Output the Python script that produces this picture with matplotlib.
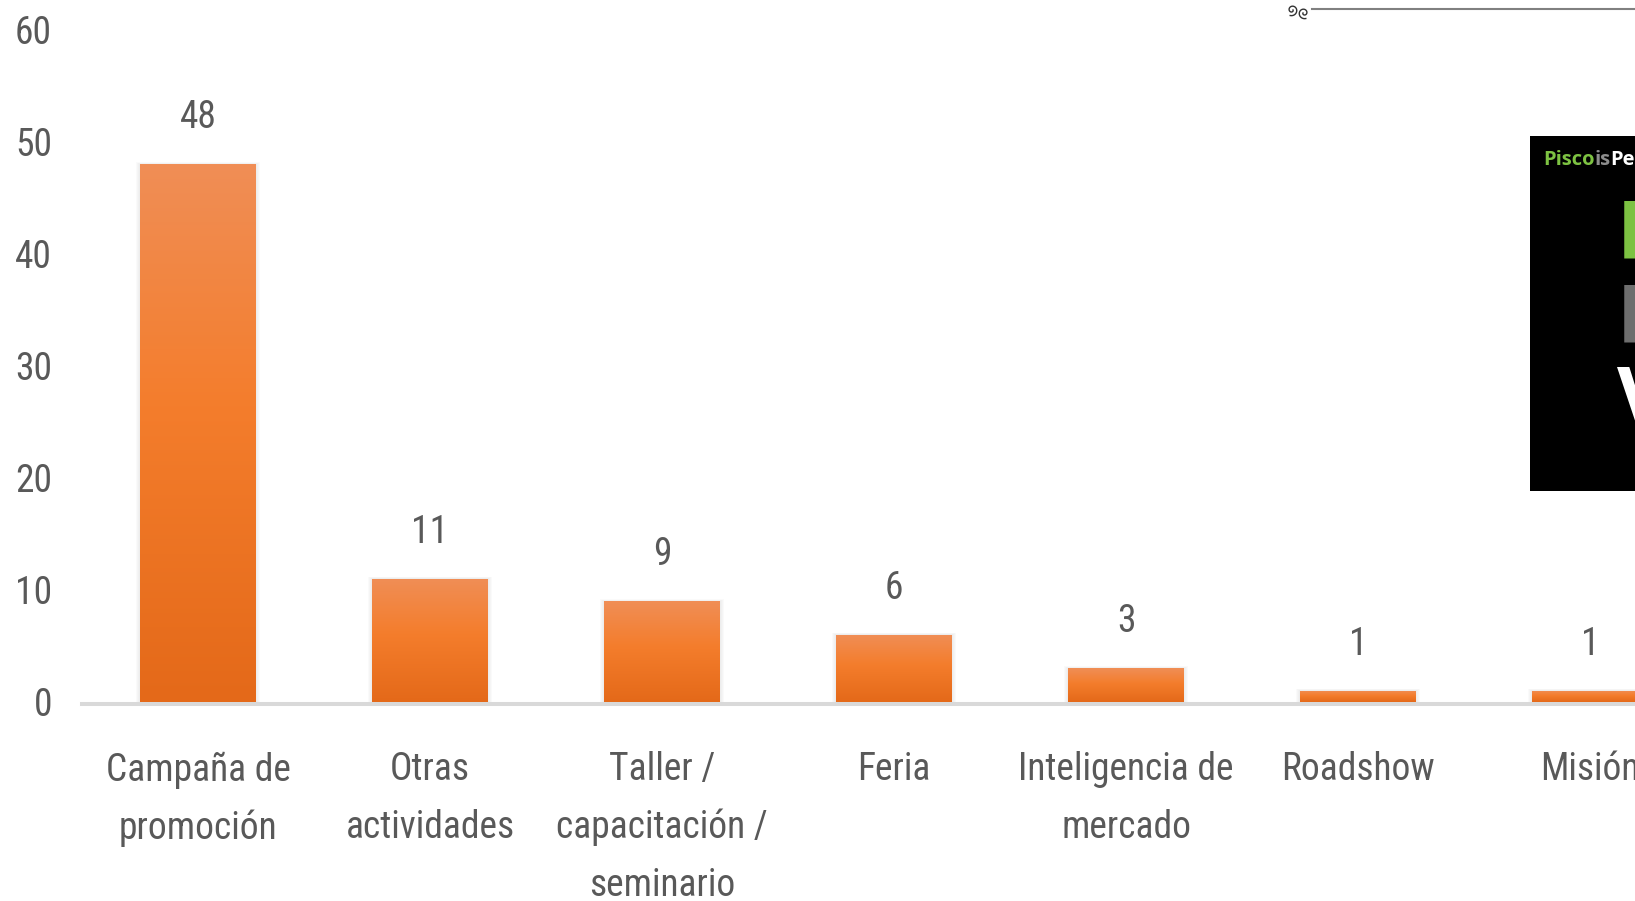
import numpy as np
import matplotlib
matplotlib.use('Agg')
import matplotlib.pyplot as plt
from matplotlib import font_manager as fm
from matplotlib.patches import Rectangle
from matplotlib.lines import Line2D
from matplotlib.colors import LinearSegmentedColormap

# ---------------- data ----------------
categories = ["Campaña de\npromoción", "Otras\nactividades",
              "Taller /\ncapacitación /\nseminario", "Feria",
              "Inteligencia de\nmercado", "Roadshow", "Misión"]
values = [48, 11, 9, 6, 3, 1, 1]
yticks = [0, 10, 20, 30, 40, 50, 60]

# ---------------- font choice (narrow font if available) ----------------
entries = fm.fontManager.ttflist
names = {f.name for f in entries}
STRETCH = 'normal'
if 'Liberation Sans Narrow' in names:
    MAIN, FS = 'Liberation Sans Narrow', 27
elif 'Roboto Condensed' in names:
    MAIN, FS = 'Roboto Condensed', 27
elif any(f.name == 'DejaVu Sans' and 'condensed' in str(f.stretch) for f in entries):
    MAIN, FS, STRETCH = 'DejaVu Sans', 24, 'condensed'
else:
    MAIN, FS = 'Liberation Sans', 24

FONT = [MAIN, 'DejaVu Sans']
plt.rcParams['font.family'] = FONT
plt.rcParams['font.stretch'] = STRETCH
TXT = '#595959'

W, H = 1635, 901
fig = plt.figure(figsize=(W / 100, H / 100), dpi=100)
fig.patch.set_facecolor('white')

ax_left, ax_bottom, ax_top = 82, 199, 30
ax = fig.add_axes([ax_left / W, ax_bottom / H, 1 - ax_left / W, (H - ax_bottom - ax_top) / H])
ax.set_facecolor('none')

x = np.arange(len(categories))
bar_w = 0.5

# soft shadow behind bars
px_x = 1 / 232.0
px_y = 60 / 672.0
for k in range(1, 5):
    ax.bar(x, [v + k * px_y * 0.5 for v in values], width=bar_w + 2 * k * px_x,
           color='#8f8f8f', alpha=0.04, zorder=1, linewidth=0)

bars = ax.bar(x, values, width=bar_w, color='#F27C2C', zorder=2, linewidth=0)

cmap = LinearSegmentedColormap.from_list(
    'og', [(0.0, (228/255, 105/255, 25/255)),
           (0.55, (244/255, 125/255, 44/255)),
           (1.0, (240/255, 142/255, 86/255))])
grad = np.linspace(0, 1, 256).reshape(-1, 1)
for r in bars:
    x0, w, h = r.get_x(), r.get_width(), r.get_height()
    im = ax.imshow(grad, cmap=cmap, extent=[x0, x0 + w, 0, h], aspect='auto',
                   origin='lower', zorder=3, interpolation='bilinear')
    im.set_clip_path(r)

# value labels
for xi, v in zip(x, values):
    ax.annotate(f"{v}", (xi, v), xytext=(0, 25.9), textcoords='offset points',
                ha='center', va='baseline', fontsize=FS, color=TXT)

ax.set_ylim(0, 60)
ax.set_xlim(-0.5, -0.5 + (W - ax_left) / 232.0)
ax.set_yticks(yticks)
ax.set_yticklabels([str(t) for t in yticks])
ax.set_xticks(x)
ax.tick_params(axis='both', length=0, labelsize=FS, labelcolor=TXT)
ax.tick_params(axis='y', pad=21.6)
ax.tick_params(axis='x', labelbottom=False)

# category labels (multi-line, centred under each bar)
for xi, lab in zip(x, categories):
    ax.annotate(lab, (xi, 0), xycoords=('data', 'axes fraction'),
                xytext=(0, -35.5), textcoords='offset points',
                ha='center', va='top', multialignment='center',
                linespacing=1.7, fontsize=FS, color=TXT, annotation_clip=False)

for s in ['top', 'right', 'left']:
    ax.spines[s].set_visible(False)
ax.spines['bottom'].set_color('#D9D9D9')
ax.spines['bottom'].set_linewidth(2.9)
ax.spines['bottom'].set_position(('outward', 1.5))
ax.spines['bottom'].set_zorder(0.5)

# ---------------- decorations (top-right) ----------------
def fx(px):
    return px / W

def fy(py):
    return (H - py) / H

fig.add_artist(Line2D([fx(1312), fx(W)], [fy(9), fy(9)], color='#808080', lw=1.5))
t = np.linspace(0, 2.6 * np.pi, 80)
for cx, cy, sgn in [(1292, 10, 1), (1304, 13, -1)]:
    rr = 1.0 + 1.6 * t / (2.6 * np.pi) * 3
    xs = cx + sgn * rr * np.cos(t)
    ys = cy + rr * np.sin(t)
    fig.add_artist(Line2D([fx(v) for v in xs], [fy(v) for v in ys], color='#333333', lw=1.0))

fig.add_artist(Rectangle((fx(1530), fy(491)), fx(W) - fx(1530) + 0.01, fy(136) - fy(491),
                         transform=fig.transFigure, facecolor='black', edgecolor='none'))
LOGO = ['Open Sans', 'DejaVu Sans']
t1 = fig.text(fx(1543), fy(165), 'Pisco', color='#7DC242', fontsize=14.5,
              fontweight='bold', family=LOGO, va='baseline', stretch='normal')
t2 = fig.text(0, 0, 'is', color='#8C8C8C', fontsize=14.5, fontweight='bold',
              family=LOGO, va='baseline', stretch='normal')
t3 = fig.text(0, 0, 'Pe', color='white', fontsize=14.5, fontweight='bold',
              family=LOGO, va='baseline', stretch='normal')
fig.canvas.draw()
r = fig.canvas.get_renderer()
bb = t1.get_window_extent(r)
t2.set_position((bb.x1 / W, fy(165)))
bb2 = t2.get_window_extent(r)
t3.set_position((bb2.x1 / W, fy(165)))

for word, col, base in [('P', '#7DC242', 258), ('P', '#6E6E6E', 342), ('V', 'white', 425)]:
    fig.text(fx(1617), fy(base), word, color=col, fontsize=58, fontweight='bold',
             family=LOGO, va='baseline', stretch='normal')

fig.savefig('out.png', dpi=100, facecolor='white')
